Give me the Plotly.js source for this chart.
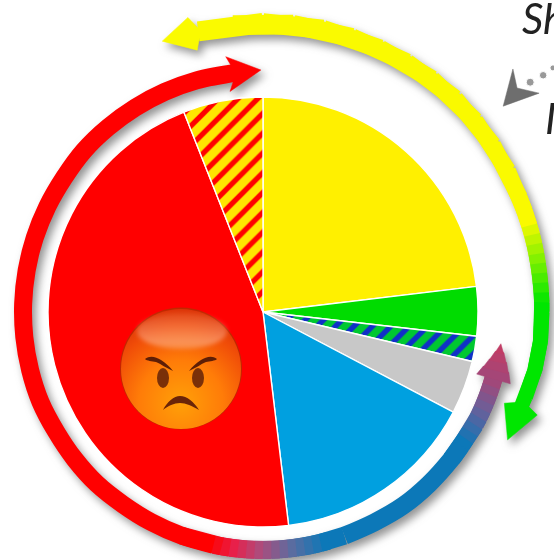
<!DOCTYPE html>
<html>
<head>
<meta charset="utf-8">
<script src="https://cdn.plot.ly/plotly-3.0.1.min.js"></script>
<style>
html,body{margin:0;padding:0;background:#fff;overflow:hidden}
#chart{width:554px;height:560px}
</style>
</head>
<body>
<div id="chart"></div>
<script>
// Pie shares, clockwise from the top
var sliceNames = ['Yellow', 'Green', 'Green hatched', 'Grey', 'Blue', 'Red', 'Red hatched'];
var sliceValues = [23.1, 3.7, 1.9, 4.0, 15.4, 45.9, 6.0];
var sliceColors = ['#fff000', '#00dc00', '#00c830', '#c8c8c8', '#00a0e0', '#ff0000', '#ffe600'];

// Outer yellow-green arrow (angle clockwise from top, radius)
var yellowTheta = [-13,-6,0,6,12,18,24,30,36,42,48,54,60,66,69,72,74,76,78,80,82,84,86,88,90,96,102,108,111];
var yellowRadius = [288,288.5,289,289,289,288.5,288,288,287.5,287,285.5,284,282.5,281,280.5,280,280,279.7,279.5,279.3,279.2,279,279,279,279,279,278,276,275];
var yellowHeadTheta = [345.7,339.6,345.9,347.5,345.7];
var yellowHeadRadius = [304,289,270,288,304];
var greenHeadTheta = [110.6,117.6,110.7,109,110.6];
var greenHeadRadius = [293,276,258,276,293];

// Inner red-blue arrow
var ringTheta = [104,106,108,110,112,114,116,118,120,122,124,128,136,144,152,160,164,166,168,170,172,174,176,178,180,182,184,186,188,190,192,200,208,216,224,232,240,248,256,264,272,280,288,296,304,312,320,328,336,344,354];
var ringRadius = [240,240,240,240,240,240,240,240,239,239,239,239,239,239,238,238,238,238,238,238,238,238,238,238,238,238,238,238,238,238,238,238,238,238,239,239,239,240,240,240,240,240,240,240,240,241,241,241,241,241,241];
var redHeadTheta = [351.7,359.5,351.5,353.5,351.7];
var redHeadRadius = [258,242,223,240,258];
var blueHeadTheta = [105.9,103.8,101.7,99.6,97.6];

// Grey pointer
var pointerTheta = [49.4,45.8,48.6,51.6,49.4];
var pointerRadius = [316.3,348.6,338.7,352.3,316.3];
var dotTheta = [49.3,49.8,49.9];
var dotRadius = [352.4,366.8,379];

var yellowStops = [[-20,[250,250,0]],[70,[250,250,0]],[87,[0,230,0]],[120,[0,230,0]]];
var ringStops = [[97,[200,58,96]],[106,[160,72,122]],[113,[106,95,154]],[122,[12,120,184]],[164,[12,120,184]],
                 [172,[90,108,160]],[180,[176,74,122]],[186,[232,32,74]],[192,[255,0,0]],[360,[255,0,0]]];
function colorAt(stops,t){
  for(var i=0;i<stops.length-1;i++){
    if(t<=stops[i+1][0]){
      var a=stops[i],b=stops[i+1],f=Math.max(0,(t-a[0])/(b[0]-a[0]));
      return 'rgb('+[0,1,2].map(function(k){return Math.round(a[1][k]+(b[1][k]-a[1][k])*f);}).join(',')+')';
    }
  }
  var l=stops[stops.length-1][1];return 'rgb('+l.join(',')+')';
}
function px(th,r){return th.map(function(t,i){return r[i]*Math.sin(t*Math.PI/180);});}
function py(th,r){return th.map(function(t,i){return r[i]*Math.cos(t*Math.PI/180);});}
var traces=[];
function arcLine(th,r,color,w,shape){
  traces.push({type:'scatter',mode:'lines',x:px(th,r),y:py(th,r),
    line:{color:color,width:w,shape:shape||'linear',smoothing:1},hoverinfo:'skip',showlegend:false});
}
function arcFill(th,r,color,axes){
  var t={type:'scatter',mode:'lines',x:px(th,r),y:py(th,r),fill:'toself',
    fillcolor:color,line:{color:color,width:0.5},hoverinfo:'skip',showlegend:false};
  if(axes){t.xaxis='x2';t.yaxis='y2';}
  traces.push(t);
}
traces.push({type:'pie',values:sliceValues,labels:sliceNames,sort:false,direction:'clockwise',rotation:0,
  textinfo:'none',hoverinfo:'label+percent',showlegend:false,
  domain:{x:[(263-215)/554,(263+215)/554],y:[(560-312-215)/560,(560-312+215)/560]},
  marker:{colors:sliceColors,line:{color:'#ffffff',width:1.4},
    pattern:{shape:['','','/','','','','/'],fgcolor:['','','#1030c8','','','','#ff0000'],
             bgcolor:['','','#00c830','','','','#ffe600'],size:[0,0,13,0,0,0,14],solidity:[0,0,0.42,0,0,0,0.38]}}});

yellowTheta.forEach(function(t,i){
  if(i>=yellowTheta.length-1) return;
  var e=Math.min(i+3,yellowTheta.length);
  arcLine(yellowTheta.slice(i,e),yellowRadius.slice(i,e),colorAt(yellowStops,t),20-6*(t+13)/124);
});
arcFill(yellowHeadTheta,yellowHeadRadius,'rgb(250,250,0)');
arcFill(greenHeadTheta,greenHeadRadius,'rgb(0,230,0)');

var i=0;
while(i<ringTheta.length-1){
  var c=colorAt(ringStops,ringTheta[i]), j=i+1;
  if(ringTheta[i]>=192||(ringTheta[i]>=124&&ringTheta[i]<160)){
    var lim=ringTheta[i]>=192?999:160;
    while(j<ringTheta.length-1&&ringTheta[j]<lim) j++;
    arcLine(ringTheta.slice(i,j+1),ringRadius.slice(i,j+1),c,18,'spline');
    i=j;
  }else{
    var e=Math.min(i+3,ringTheta.length);
    arcLine(ringTheta.slice(i,e),ringRadius.slice(i,e),c,18);
    i=j;
  }
}
arcFill(redHeadTheta,redHeadRadius,'rgb(255,0,0)');
blueHeadTheta.slice(0,-1).forEach(function(t,k){
  var t2=blueHeadTheta[k+1], n=blueHeadTheta.length-1, h1=17.5*(1-k/n), h2=17.5*(1-(k+1)/n);
  arcFill([t+0.3,t2,t2,t+0.3,t+0.3],[240-h1,240-h2,240+h2,240+h1,240-h1],colorAt(ringStops,(t+t2)/2));
});

// Grey pointer lives on a second axis pair, free of the arrows' shadow
arcFill(pointerTheta,pointerRadius,'#6e6e6e',true);
traces.push({type:'scatter',xaxis:'x2',yaxis:'y2',mode:'markers',x:px(dotTheta,dotRadius),y:py(dotTheta,dotRadius),
  marker:{color:'#6e6e6e',size:[8,7.5,6]},hoverinfo:'skip',showlegend:false,cliponaxis:false});

var face='<svg xmlns="http://www.w3.org/2000/svg" viewBox="0 0 122 123" width="244" height="246">'+
'<defs>'+
'<radialGradient id="g" cx="50%" cy="78%" r="78%"><stop offset="0" stop-color="#ffa008"/><stop offset="0.45" stop-color="#ff7c08"/><stop offset="0.8" stop-color="#f04c08"/><stop offset="1" stop-color="#dc3408"/></radialGradient>'+
'<linearGradient id="h" x1="0" y1="0" x2="0" y2="1"><stop offset="0" stop-color="#ffc8b0" stop-opacity="0.1"/><stop offset="0.8" stop-color="#ffd0b8" stop-opacity="0.45"/><stop offset="1" stop-color="#ffd0b8" stop-opacity="0.3"/></linearGradient>'+
'<filter id="b" x="-20%" y="-20%" width="140%" height="140%"><feGaussianBlur stdDeviation="2"/></filter>'+
'</defs>'+
'<circle cx="61" cy="61.5" r="61" fill="#c02800"/>'+
'<circle cx="61" cy="62" r="60" fill="url(#g)"/>'+
'<ellipse cx="62" cy="24" rx="45" ry="18" fill="url(#h)" filter="url(#b)"/>'+
'<path d="M25 52 C30 48 36 50 41 53 C46 56 50 60 53 64 C46 61 41 57 36 55 C32 54 27 54 25 52Z" fill="#5e1e06"/>'+
'<path d="M97 52 C92 48 86 50 81 53 C76 56 72 60 69 64 C76 61 81 57 86 55 C90 54 95 54 97 52Z" fill="#5e1e06"/>'+
'<ellipse cx="43" cy="71" rx="6" ry="10" fill="#7a3008"/>'+
'<ellipse cx="78" cy="71" rx="6" ry="10" fill="#7a3008"/>'+
'<path d="M43 103 C47 95 54 89 60 89 C67 89 74 95 79 103 C72 99 66 96 60 96 C54 96 48 99 43 103Z" fill="#6a2408"/>'+
'</svg>';

var layout={
  width:554,height:560,margin:{l:0,r:0,t:0,b:0},paper_bgcolor:'#ffffff',plot_bgcolor:'rgba(0,0,0,0)',showlegend:false,
  xaxis:{range:[-263,291],visible:false,fixedrange:true},
  yaxis:{range:[-248,312],visible:false,fixedrange:true},
  xaxis2:{range:[-263,291],visible:false,overlaying:'x',fixedrange:true},
  yaxis2:{range:[-248,312],visible:false,overlaying:'y',fixedrange:true},
  images:[{source:'data:image/svg+xml;charset=utf-8,'+encodeURIComponent(face),xref:'paper',yref:'paper',
    x:120/554,y:1-307/560,sizex:122/554,sizey:123/560,xanchor:'left',yanchor:'top',sizing:'stretch',layer:'above'}],
  annotations:[
    {text:'<i>Sh</i>',xref:'paper',yref:'paper',x:520/554,y:1-18/560,xanchor:'left',yanchor:'middle',showarrow:false,
     font:{family:'Lato, "Open Sans", sans-serif',size:42,color:'#222222'}},
    {text:'<i>I</i>',xref:'paper',yref:'paper',x:543/554,y:1-118/560,xanchor:'left',yanchor:'middle',showarrow:false,
     font:{family:'Lato, "Open Sans", sans-serif',size:42,color:'#222222'}}
  ]
};
Plotly.newPlot('chart',traces,layout,{displayModeBar:false,staticPlot:true}).then(function(){
  var s=document.querySelector('.subplot.xy .scatterlayer');
  if(s) s.style.filter='drop-shadow(4px 5px 4px rgba(60,60,60,0.55))';
  document.querySelectorAll('.main-svg').forEach(function(m){m.style.filter='blur(0.5px)';});
});
</script>
</body>
</html>
